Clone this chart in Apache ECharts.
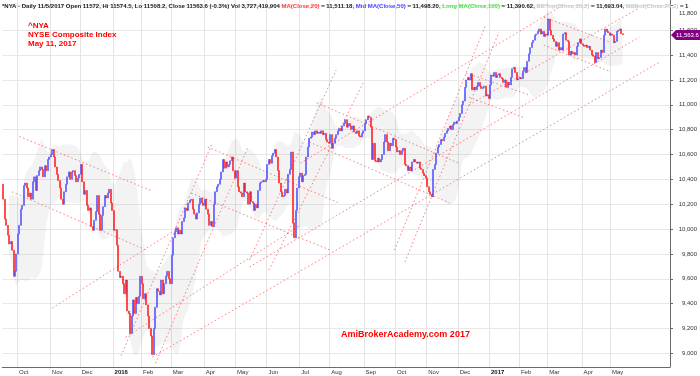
<!DOCTYPE html>
<html>
<head>
<meta charset="utf-8">
<script src="https://cdn.jsdelivr.net/npm/echarts@6/dist/echarts.min.js"></script>
<style>
  html, body { margin: 0; padding: 0; background: #fff; }
  #main { width: 700px; height: 376px; }
</style>
</head>
<body>
<div id="main"></div>
<script>
// month labels on the time axis (one per monthly close array below)
var months = ['Sep', 'Oct', 'Nov', 'Dec', '2016', 'Feb', 'Mar', 'Apr', 'May', 'Jun', 'Jul', 'Aug',
              'Sep', 'Oct', 'Nov', 'Dec', '2017', 'Feb', 'Mar', 'Apr', 'May'];

// daily closes, one array per month
var prevClose = 10360; // close before the first bar (used as its open)
var sep15 = [10240, 10080, 10030, 9950, 9880, 9900, 9830, 9620, 9660, 9800];
var oct15 = [9960, 10030, 10160, 10190, 10350, 10370, 10330, 10260, 10290, 10240, 10380, 10420, 10310, 10430, 10470, 10500, 10480, 10420, 10510, 10470, 10560, 10580];
var nov15 = [10600, 10640, 10580, 10500, 10440, 10390, 10330, 10240, 10200, 10300, 10360, 10420, 10460, 10400, 10460, 10470, 10430, 10380, 10410, 10440];
var dec15 = [10520, 10380, 10280, 10310, 10190, 10150, 10170, 10020, 9990, 10070, 10140, 10270, 10120, 9990, 10110, 10180, 10270, 10250, 10290, 10320, 10210, 10150];
var jan16 = [9990, 9995, 9870, 9660, 9610, 9620, 9560, 9480, 9590, 9340, 9320, 9160, 9300, 9430, 9320, 9450, 9400, 9460, 9620];
var feb16 = [9560, 9440, 9480, 9390, 9300, 9200, 9140, 8990, 9200, 9370, 9520, 9500, 9470, 9590, 9480, 9560, 9620, 9660, 9600, 9560];
var mar16 = [9790, 9930, 9980, 10010, 9960, 9990, 9960, 10060, 10090, 10170, 10150, 10210, 10230, 10240, 10160, 10120, 10080, 10130, 10200, 10250, 10210, 10190];
var apr16 = [10240, 10160, 10120, 10030, 10060, 10020, 10200, 10300, 10340, 10360, 10400, 10460, 10560, 10490, 10540, 10500, 10520, 10550, 10580, 10470, 10410];
var may16 = [10470, 10340, 10300, 10290, 10260, 10370, 10300, 10290, 10200, 10300, 10220, 10210, 10150, 10200, 10170, 10310, 10370, 10380, 10390, 10380, 10400];
var jun16 = [10520, 10560, 10530, 10590, 10610, 10640, 10580, 10470, 10370, 10300, 10260, 10270, 10320, 10290, 10440, 10480, 10620, 10050, 9930, 10150, 10330, 10420];
var jul16 = [10450, 10380, 10430, 10440, 10580, 10660, 10730, 10740, 10780, 10760, 10790, 10770, 10780, 10770, 10790, 10760, 10770, 10720, 10700, 10690];
var aug16 = [10760, 10650, 10690, 10730, 10760, 10790, 10810, 10790, 10830, 10850, 10880, 10820, 10850, 10830, 10800, 10830, 10780, 10770, 10790, 10750, 10740, 10770, 10790];
var sep16 = [10850, 10880, 10910, 10900, 10820, 10560, 10690, 10550, 10540, 10570, 10540, 10560, 10600, 10700, 10760, 10700, 10630, 10690, 10670, 10730, 10720];
var oct16 = [10660, 10620, 10630, 10600, 10630, 10650, 10520, 10510, 10470, 10500, 10470, 10540, 10560, 10540, 10530, 10540, 10490, 10480, 10450, 10430, 10410];
var nov16 = [10340, 10300, 10280, 10260, 10480, 10520, 10610, 10660, 10680, 10720, 10710, 10740, 10770, 10790, 10810, 10830, 10800, 10840, 10860, 10850, 10870];
var dec16 = [10900, 10930, 11000, 11030, 11140, 11200, 11220, 11200, 11250, 11120, 11140, 11120, 11150, 11180, 11150, 11130, 11140, 11150, 11070, 11080, 11050];
var jan17 = [11160, 11240, 11230, 11260, 11220, 11240, 11250, 11220, 11210, 11180, 11200, 11140, 11180, 11160, 11220, 11290, 11300, 11260, 11200, 11210];
var feb17 = [11220, 11210, 11270, 11300, 11260, 11350, 11410, 11460, 11500, 11520, 11560, 11570, 11590, 11610, 11570, 11590, 11550, 11570, 11560];
var mar17 = [11690, 11600, 11560, 11530, 11510, 11470, 11500, 11440, 11460, 11440, 11570, 11580, 11520, 11510, 11400, 11430, 11410, 11420, 11400, 11470, 11500, 11530, 11490];
var apr17 = [11480, 11470, 11480, 11460, 11470, 11440, 11400, 11390, 11340, 11420, 11370, 11380, 11440, 11420, 11560, 11610, 11590, 11580, 11560];
var may17 = [11570, 11560, 11500, 11510, 11590, 11600, 11610, 11572, 11563.6];

var monthly = [sep15, oct15, nov15, dec15, jan16, feb16, mar16, apr16, may16, jun16, jul16, aug16,
               sep16, oct16, nov16, dec16, jan17, feb17, mar17, apr17, may17];

// hand drawn trend lines: [startBar, startPrice, endBar, endPrice]
var trendLines = [
  [11, 10745, 100, 10305], [6, 10300, 96, 9830], [33, 9365, 113, 9975],
  [79, 8980, 140, 10690], [102, 8920, 164, 10660], [100, 8970, 439, 11340],
  [82, 9130, 199, 10030], [137, 10660, 225, 10210], [126, 10290, 219, 9830],
  [165, 9750, 223, 11280], [178, 9670, 241, 11175], [165, 9695, 426, 11545],
  [199, 10530, 376, 11810], [312, 11000, 426, 11780], [210, 11015, 305, 10530],
  [205, 10700, 299, 10210], [262, 9830, 323, 11640], [269, 9735, 332, 11585],
  [310, 11255, 352, 11080], [312, 11060, 349, 10895], [362, 11705, 406, 11505],
  [362, 11480, 407, 11265]
];

var yTicks = [9000, 9200, 9400, 9600, 9800, 10000, 10200, 10400, 10600, 10800, 11000, 11200, 11400, 11600, 11800];
var blankBars = 31; // empty space right of the last bar

// ---- build categories, candles and bollinger band
var closes = [], keys = [], labelAt = {};
monthly.forEach(function (arr, m) {
  arr.forEach(function (c, d) {
    if (d === 0 && m > 0) labelAt[closes.length] = months[m];
    keys.push(m + '-' + d);
    closes.push(c);
  });
});
for (var b = 0; b < blankBars; b++) keys.push('x' + b);

var candles = closes.map(function (c, i) {
  var o = i === 0 ? prevClose : closes[i - 1];
  return [o, c, Math.min(o, c), Math.max(o, c)];
});

var bbLow = [], bbGap = [];
closes.forEach(function (c, i) {
  var from = Math.max(0, i - 19);
  var win = closes.slice(from, i + 1);
  if (win.length < 5) { bbLow.push(null); bbGap.push(null); return; }
  var mean = win.reduce(function (a, v) { return a + v; }, 0) / win.length;
  var sd = Math.sqrt(win.reduce(function (a, v) { return a + (v - mean) * (v - mean); }, 0) / win.length);
  bbLow.push(mean - 2 * sd);
  bbGap.push(4 * sd);
});

var chart = echarts.init(document.getElementById('main'));
var font = '"Liberation Sans", Arial, sans-serif';

var series = [
  {
    type: 'line', data: bbLow, stack: 'bb', symbol: 'none', silent: true,
    lineStyle: { width: 0, opacity: 0 }, z: 1
  },
  {
    type: 'line', data: bbGap, stack: 'bb', symbol: 'none', silent: true,
    lineStyle: { width: 0, opacity: 0 },
    areaStyle: { color: 'rgba(0,0,0,0.065)', origin: 'start' }, z: 1
  }
];
trendLines.forEach(function (t) {
  series.push({
    type: 'line', symbol: 'none', silent: true, z: 3,
    data: [[t[0], t[1]], [t[2], t[3]]],
    lineStyle: { color: '#ff5a5a', width: 1, type: [1.5, 2.5], opacity: 0.8 }
  });
});
series.push({
  type: 'candlestick', data: candles, barWidth: 1.5, z: 4,
  itemStyle: {
    color: '#4a4aff', color0: '#ff1414',
    borderColor: '#4a4aff', borderColor0: '#ff1414', borderWidth: 0.5
  }
});

var isMonth = function (i) { return labelAt[i] !== undefined; };

var option = {
  animation: false,
  backgroundColor: '#fff',
  textStyle: { fontFamily: font },
  title: [
    {
      left: 2, top: 3, padding: 0,
      text: '{k|*NYA - Daily 11/5/2017 Open 11572, Hi 11574.5, Lo 11508.2, Close 11563.6 (-0.3%) Vol 3,727,419,904 }' +
            '{r|MA(Close,20)}{k| = 11,511.18, }{b|Mid MA(Close,50)}{k| = 11,498.20, }' +
            '{g|Long MA(Close,100)}{k| = 11,390.62, }{l|BBTop(Close,20,2)}{k| = 11,693.04, }' +
            '{l|BBBot(Close,20,2)}{k| = 1}',
      textStyle: {
        rich: {
          k: { fontSize: 6, color: '#222', fontFamily: font },
          r: { fontSize: 6, color: '#ff4040', fontFamily: font },
          b: { fontSize: 6, color: '#4848ff', fontFamily: font },
          g: { fontSize: 6, color: '#44e044', fontFamily: font },
          l: { fontSize: 6, color: '#c8c8c8', fontFamily: font }
        }
      }
    },
    {
      left: 28, top: 21, padding: 0,
      text: '^NYA\nNYSE Composite Index\nMay 11, 2017',
      textStyle: { fontSize: 8, fontWeight: 'bold', color: '#ff0000', lineHeight: 9, fontFamily: font }
    },
    {
      left: 341, top: 330, padding: 0,
      text: 'AmiBrokerAcademy.com 2017',
      textStyle: { fontSize: 9, fontWeight: 'bold', color: '#ff0000', fontFamily: font }
    }
  ],
  grid: { left: 2.3, right: 29, top: 0, bottom: 9, containLabel: false },
  xAxis: {
    type: 'category', data: keys, boundaryGap: true,
    axisLine: { lineStyle: { color: '#6a6a6a', width: 1 } },
    axisTick: { interval: isMonth, alignWithLabel: true, length: 4, lineStyle: { color: '#6a6a6a' } },
    axisLabel: {
      interval: isMonth, margin: 2, align: 'left', padding: [0, 0, 0, 1],
      fontSize: 6, color: '#333', fontFamily: font,
      formatter: function (v, i) {
        var s = labelAt[i] || '';
        return /^\d{4}$/.test(s) ? '{y|' + s + '}' : s;
      },
      rich: { y: { fontSize: 6, fontWeight: 'bold', color: '#111', fontFamily: font } }
    },
    splitLine: { show: true, interval: isMonth, lineStyle: { color: '#e4e4e4', width: 1 } }
  },
  yAxis: {
    type: 'value', position: 'right', min: 8890, max: 11843, scale: true,
    axisLine: { show: true, lineStyle: { color: '#6a6a6a', width: 1 } },
    axisTick: { show: true, customValues: yTicks, length: 3, lineStyle: { color: '#6a6a6a' } },
    axisLabel: {
      customValues: yTicks, align: 'right', margin: 27,
      fontSize: 6, color: '#333', fontFamily: font,
      formatter: function (v) {
        var s = v.toLocaleString('en-US');
        return v === 11800 ? '{t|' + s + '}' : s;
      },
      rich: { t: { fontSize: 6, color: '#333', fontFamily: font, padding: [16, 0, 0, 0] } }
    },
    splitLine: { show: true, lineStyle: { color: '#e8e8e8', width: 1 } }
  },
  series: series
};

chart.setOption(option);

// last price tag on the right axis
var last = closes.length - 1;
var pt = chart.convertToPixel({ xAxisIndex: 0, yAxisIndex: 0 }, [last, closes[last]]);
var ty = Math.round(pt[1]);
chart.setOption({
  graphic: [
    {
      type: 'polygon', z: 100,
      shape: { points: [[671, ty], [676, ty - 5], [700, ty - 5], [700, ty + 5], [676, ty + 5]] },
      style: { fill: '#800080' }
    },
    {
      type: 'text', z: 101, x: 676, y: ty,
      style: {
        text: closes[last].toLocaleString('en-US', { minimumFractionDigits: 1 }),
        fill: '#fff', fontSize: 6, fontFamily: font, verticalAlign: 'middle'
      }
    }
  ]
});
</script>
</body>
</html>
